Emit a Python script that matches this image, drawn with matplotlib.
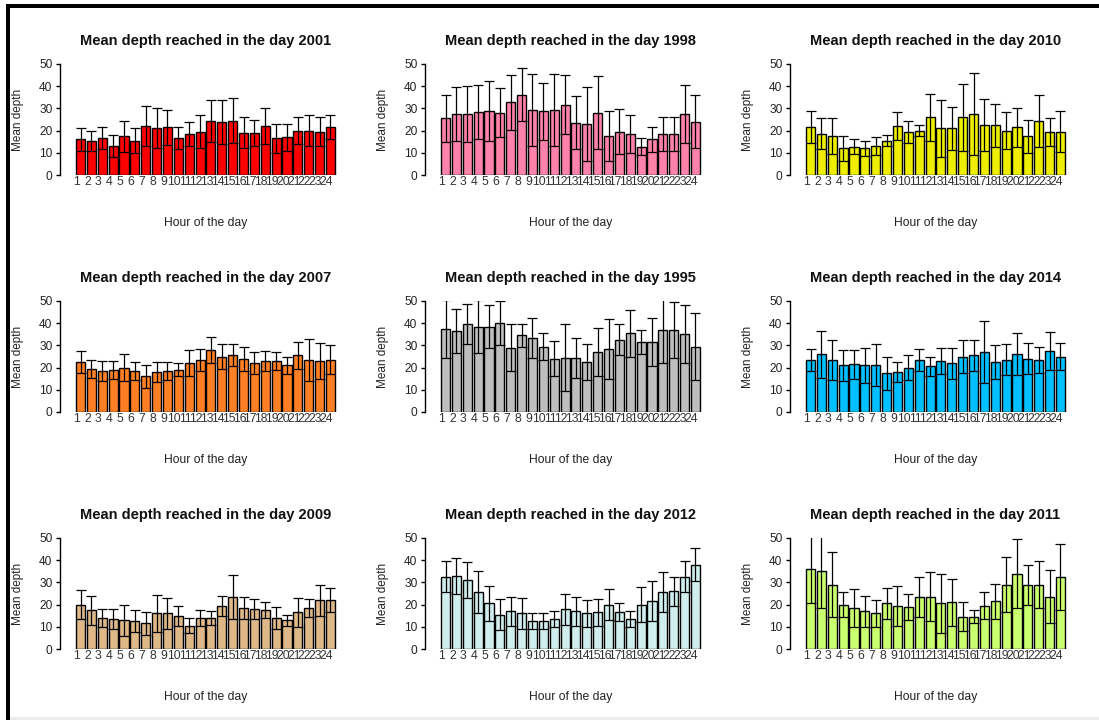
#!/usr/bin/env python
"""
Mean depth reached per hour of the day, one barplot per year (3x3 grid),
bars are hourly means with +/- 1 sd error bars.
"""
import matplotlib
matplotlib.use('Agg')  # noqa: E402
import matplotlib.pyplot as plt
from matplotlib.patches import Rectangle

import numpy as np

plt.rcParams['font.family'] = ['Liberation Sans', 'DejaVu Sans']

hours = [str(h) for h in range(1, 25)]

# hourly means and standard deviations
mean_2001 = [16, 15.5, 16.5, 13, 17.5, 15.5, 22, 21, 21.5, 16.5, 18.5, 19.5,
             24.5, 24, 24.5, 19, 19, 22, 16.5, 17, 20, 20, 19.5, 21.5]
sd_2001 = [5, 4.5, 5, 5, 7, 5.5, 9, 9, 8, 5, 5.5, 7.5,
           9.5, 10, 10, 7, 6, 8, 6.5, 6, 6, 7, 6.5, 5.5]

mean_1998 = [25.5, 27.5, 27.5, 28.3, 28.8, 28, 32.7, 36.2, 29.2, 28.7, 29.2, 31.7,
             23.5, 23, 28, 17.5, 19.5, 18.5, 12.8, 16, 18.5, 18.5, 27.5, 24]
sd_1998 = [10.5, 12, 12.5, 12.2, 13.7, 11, 12.3, 11.8, 16.3, 12.8, 16.3, 13.3,
           12, 16.5, 16.5, 11.3, 10.2, 8.5, 3.7, 5.5, 7.5, 7.5, 13, 12]

mean_2010 = [21.5, 18.5, 17.5, 12, 12.7, 12, 13, 15.5, 22, 19.5, 20, 26,
             21, 21, 26, 27.5, 22.5, 22.5, 20, 21.5, 17.5, 24.5, 19.5, 19.5]
sd_2010 = [7.3, 7, 8, 5.5, 3.3, 3.5, 4, 2.5, 6.3, 5, 2.5, 10.7,
           12.7, 9.7, 15.2, 18.5, 11.7, 9.7, 8.3, 8.7, 7.5, 11.7, 6.3, 9.3]

mean_2007 = [22.5, 19.5, 18.5, 19, 20, 18.5, 16, 18, 18.5, 19, 22, 23.5,
             28, 25, 25.5, 24, 22, 23, 23, 21, 25.5, 23.5, 23, 23.5]
sd_2007 = [5, 4, 4.5, 4, 6, 4, 5, 4.5, 4, 3, 6, 5,
           6, 5.5, 5, 5.5, 5, 4.5, 4, 4, 6, 9.5, 8, 6.5]

mean_1995 = [37.5, 36.5, 39.5, 38.5, 38.5, 40, 29, 34.5, 33.5, 29.5, 24, 24.5,
             24.5, 22.5, 27, 28.5, 32.5, 35.5, 31.5, 31.5, 37, 37, 35, 29.5]
sd_1995 = [13, 10, 9, 12, 9.5, 10, 10.5, 5, 9, 6, 8, 15,
           9, 8, 11, 13.5, 7, 10.5, 5.5, 11, 15, 12.5, 13, 15]

mean_2014 = [23.5, 26, 23.5, 21, 21.5, 21, 21, 17.5, 18, 20, 23.5, 20.5,
             23, 22, 25, 25.5, 27, 22.5, 23.5, 26, 24, 23.5, 27.5, 25]
sd_2014 = [5, 10.5, 9, 7, 6.5, 8, 9.5, 7.5, 4.5, 5.5, 5, 4.5,
           6, 7, 7.5, 7, 14, 7.5, 7, 9.5, 7, 6, 8.5, 6]

mean_2009 = [20, 17.5, 14, 13.5, 13, 12.5, 11.5, 16, 16, 15, 10.5, 14,
             14, 19.5, 23.5, 18.5, 18, 17.5, 14, 13, 16.5, 18.5, 22, 22]
sd_2009 = [6.5, 6.5, 4, 4.5, 7, 5, 5, 8.5, 7, 4.5, 3.5, 3.5,
           3, 4.5, 10, 5, 4.5, 3.5, 5, 2.5, 6.5, 4, 7, 5.5]

mean_2012 = [32.5, 33, 31, 25.5, 20.5, 15.5, 17, 16, 12.5, 12.5, 13.5, 18,
             17, 16, 16.5, 20, 16.5, 13.5, 20, 21.5, 25.5, 26, 32.5, 38]
sd_2012 = [7, 8, 8, 9.5, 8, 7, 6.5, 7, 3.5, 3.5, 3.5, 7,
           6.5, 6, 6, 7, 4, 3.5, 8, 9, 9, 6.5, 7, 7.5]

mean_2011 = [36, 35, 29, 20, 18.5, 17, 16, 20.5, 19.5, 19, 23.5, 23.5,
             20.5, 21, 14.5, 14.5, 19.5, 21.5, 29, 34, 29, 29, 23.5, 32.5]
sd_2011 = [15.5, 16.5, 14.5, 5.5, 8.5, 7, 6, 7, 9, 6, 9, 11,
           13.5, 10.5, 6.5, 3, 6, 8, 12.5, 15.5, 9, 10.5, 12, 15]

years = [2001, 1998, 2010, 2007, 1995, 2014, 2009, 2012, 2011]
colors = ['#FF0000', '#FF82AB', '#EEEE00', '#FF7F24', '#BEBEBE',
          '#00BFFF', '#DEB887', '#D1EEEE', '#CAFF70']
means = [mean_2001, mean_1998, mean_2010, mean_2007, mean_1995,
         mean_2014, mean_2009, mean_2012, mean_2011]
sds = [sd_2001, sd_1998, sd_2010, sd_2007, sd_1995,
       sd_2014, sd_2009, sd_2012, sd_2011]

W, H = 1099, 720
fig = plt.figure(figsize=(W / 100, H / 100), dpi=100)

# R barplot geometry: width 1, space 0.2
pos = 0.7 + 1.2 * np.arange(24)
col_left = [60, 425, 790]
row_bottom = [175, 412, 649]
ax_w, ax_h = 291, 111
px = 0.72  # points per pixel

for i, (year, color, m, s) in enumerate(zip(years, colors, means, sds)):
    r, c = divmod(i, 3)
    ax = fig.add_axes([col_left[c] / W, 1 - row_bottom[r] / H, ax_w / W, ax_h / H])
    ax.bar(pos, m, width=1.0, color=color, edgecolor='black', linewidth=1.0, zorder=2)
    ax.errorbar(pos, m, yerr=s, fmt='none', ecolor='black', elinewidth=0.9,
                capsize=3.6, capthick=0.9, zorder=3)
    ax.set_xlim(-1.57, 30.57)
    ax.set_ylim(0, 50)
    for side in ('top', 'right', 'bottom'):
        ax.spines[side].set_visible(False)
    ax.spines['left'].set_linewidth(1.0)
    ax.set_yticks([0, 10, 20, 30, 40, 50])
    ax.tick_params(axis='y', length=3, width=1.0, pad=2.5,
                   labelsize=8.6, labelcolor='#222222')
    ax.set_xticks(pos - 0.45, labels=hours)
    ax.tick_params(axis='x', length=0, pad=0.5, labelsize=8.8, labelcolor='#333333')
    ax.set_title("Mean depth reached in the day %d" % year, fontsize=10.5,
                 fontweight='bold', pad=14, color='#111111')
    ax.annotate("Hour of the day", xy=(0.5, 0), xycoords='axes fraction',
                xytext=(0, -48 * px), textcoords='offset points',
                ha='center', va='center', fontsize=8.7, color='#222222')
    ax.annotate("Mean depth", xy=(0, 0.5), xycoords='axes fraction',
                xytext=(-42 * px, 0), textcoords='offset points',
                ha='center', va='center', rotation=90, fontsize=8.5, color='#222222')

# screenshot frame: thick black top/left edges, light grey bottom edge
fig.add_artist(Rectangle((6 / W, 1 - 8 / H), 1 - 6 / W, 4 / H, transform=fig.transFigure,
                         facecolor='black', edgecolor='none'))
fig.add_artist(Rectangle((6 / W, 0), 4 / W, 1 - 4 / H, transform=fig.transFigure,
                         facecolor='black', edgecolor='none'))
fig.add_artist(Rectangle((10 / W, 0), 1 - 10 / W, 3 / H, transform=fig.transFigure,
                         facecolor='#EBEBEB', edgecolor='none'))

fig.savefig("out.png", dpi=100)
